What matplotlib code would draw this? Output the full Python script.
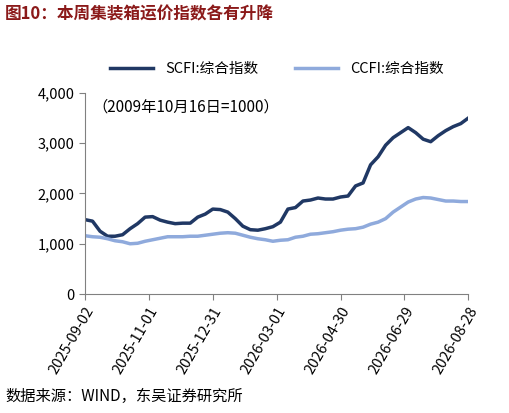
import numpy as np
import pandas as pd
import matplotlib
matplotlib.use("Agg")
import matplotlib.pyplot as plt
import matplotlib.dates as mdates

plt.rcParams['font.family'] = ['Noto Sans CJK SC', 'DejaVu Sans']

scfi = [1480, 1450, 1250, 1150, 1150, 1180, 1300, 1400, 1530, 1540, 1470, 1430, 1400,
        1410, 1410, 1530, 1590, 1690, 1680, 1630, 1500, 1350, 1280, 1270, 1300, 1340,
        1430, 1690, 1720, 1850, 1870, 1910, 1890, 1890, 1930, 1950, 2150, 2210, 2570,
        2730, 2960, 3110, 3210, 3310, 3210, 3080, 3030, 3150, 3250, 3330, 3390, 3500]
ccfi = [1160, 1140, 1130, 1100, 1060, 1040, 1000, 1010, 1050, 1080, 1110, 1140, 1140,
        1140, 1150, 1150, 1170, 1190, 1210, 1220, 1210, 1170, 1130, 1100, 1080, 1050,
        1070, 1080, 1130, 1150, 1190, 1200, 1220, 1240, 1270, 1290, 1300, 1330, 1390,
        1430, 1500, 1630, 1730, 1830, 1890, 1920, 1910, 1880, 1850, 1850, 1840, 1840]
dates = pd.date_range("2025-09-02", "2026-08-28", periods=len(scfi))
tick_dates = pd.to_datetime(["2025-09-02", "2025-11-01", "2025-12-31", "2026-03-01",
                             "2026-04-30", "2026-06-29", "2026-08-28"])

fig = plt.figure(figsize=(5.09, 4.13), dpi=100)
ax = fig.add_axes([0.167, 0.288, 0.753, 0.487])

ax.plot(dates, scfi, color="#203864", lw=2.5, label="SCFI:综合指数")
ax.plot(dates, ccfi, color="#8FAADC", lw=2.5, label="CCFI:综合指数")

ax.set_ylim(0, 4000)
ax.set_yticks(range(0, 4001, 1000))
ax.yaxis.set_major_formatter(matplotlib.ticker.FuncFormatter(lambda v, p: f"{int(v):,}"))
ax.set_xlim(tick_dates[0], tick_dates[-1])
ax.set_xticks(tick_dates)
ax.xaxis.set_major_formatter(mdates.DateFormatter("%Y-%m-%d"))
plt.setp(ax.get_xticklabels(), rotation=60, ha="right", rotation_mode="anchor")
ax.tick_params(labelsize=10.5, direction="out", length=4, color="#808080")
for s in ["top", "right"]:
    ax.spines[s].set_visible(False)
for s in ["left", "bottom"]:
    ax.spines[s].set_color("#808080")

ax.text(0.02, 0.93, "（2009年10月16日=1000）", transform=ax.transAxes, fontsize=11, va="center")
ax.legend(loc="lower center", bbox_to_anchor=(0.5, 1.02), ncol=2, frameon=False,
          fontsize=10.5, handlelength=3, columnspacing=2.5)

fig.text(0.01, 0.965, "图10：本周集装箱运价指数各有升降", fontsize=12, fontweight="bold",
         color="#8B1A1A", va="center")
fig.text(0.01, 0.04, "数据来源：WIND，东吴证券研究所", fontsize=11, va="center")

fig.savefig("out.png", dpi=100)
